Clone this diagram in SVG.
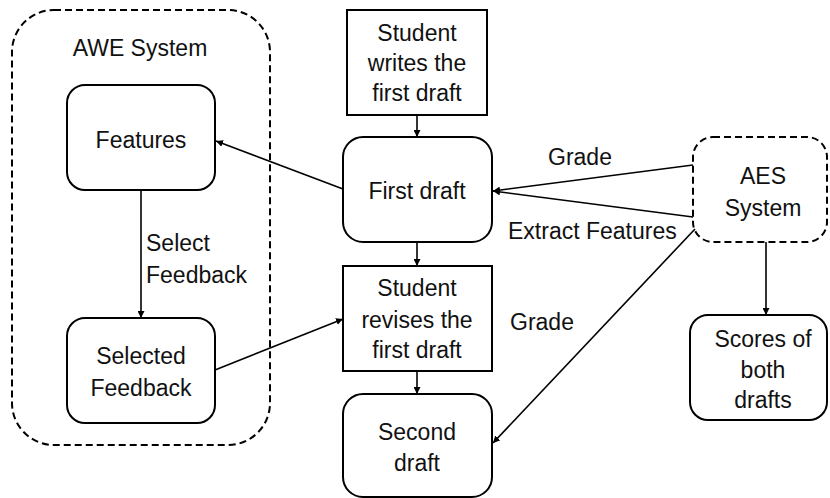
<svg xmlns="http://www.w3.org/2000/svg" width="830" height="498" viewBox="0 0 830 498">
<defs>
<marker id="arr" viewBox="0 0 10 10" refX="10" refY="5" markerWidth="7" markerHeight="7" markerUnits="userSpaceOnUse" orient="auto">
<path d="M0,0 L10,5 L0,10 z" fill="#000"/>
</marker>
</defs>
<style>
.box{fill:#fff;stroke:#000;stroke-width:2}
.dash{fill:none;stroke:#000;stroke-width:2;stroke-dasharray:7,4}
.t{font-family:"Liberation Sans",Arial,sans-serif;font-size:23px;fill:#111;text-anchor:middle}
.l{font-family:"Liberation Sans",Arial,sans-serif;font-size:23px;fill:#111}
.c{stroke:#000;stroke-width:1.6;fill:none;marker-end:url(#arr)}
</style>
<rect width="830" height="498" fill="#fff"/>
<g id="awe">
<rect class="dash" x="12" y="10" width="258" height="435" rx="42"/>
<text class="t" x="140" y="56">AWE System</text>
</g>
<g id="features">
<rect class="box" x="67" y="85" width="148" height="105" rx="18"/>
<text class="t" x="141" y="148">Features</text>
</g>
<g id="selected">
<rect class="box" x="67" y="318" width="148" height="105" rx="18"/>
<text class="t" x="141" y="364">Selected</text>
<text class="t" x="141" y="396">Feedback</text>
</g>
<g id="writes">
<rect class="box" x="347" y="10" width="140" height="105"/>
<text class="t" x="417" y="41">Student</text>
<text class="t" x="417" y="71">writes the</text>
<text class="t" x="417" y="101">first draft</text>
</g>
<g id="first">
<rect class="box" x="343" y="137" width="149" height="105" rx="20"/>
<text class="t" x="417" y="199">First draft</text>
</g>
<g id="revises">
<rect class="box" x="343" y="266" width="149" height="105"/>
<text class="t" x="417" y="296">Student</text>
<text class="t" x="417" y="328">revises the</text>
<text class="t" x="417" y="358">first draft</text>
</g>
<g id="second">
<rect class="box" x="343" y="394" width="149" height="103" rx="20"/>
<text class="t" x="417" y="440">Second</text>
<text class="t" x="417" y="471">draft</text>
</g>
<g id="aes">
<rect class="dash" x="693" y="137" width="134" height="105" rx="20"/>
<text class="t" x="763" y="184">AES</text>
<text class="t" x="763" y="216">System</text>
</g>
<g id="scores">
<rect class="box" x="690" y="315" width="137" height="105" rx="18"/>
<text class="t" x="763" y="347">Scores of</text>
<text class="t" x="763" y="378">both</text>
<text class="t" x="763" y="408">drafts</text>
</g>
<g id="connectors">
<line class="c" x1="141" y1="190" x2="141" y2="318"/>
<line class="c" x1="417" y1="115" x2="417" y2="137"/>
<line class="c" x1="417" y1="242" x2="417" y2="266"/>
<line class="c" x1="417" y1="371" x2="417" y2="394"/>
<line class="c" x1="343" y1="189" x2="216" y2="141"/>
<line class="c" x1="215" y1="370" x2="343" y2="319"/>
<line class="c" x1="693" y1="165" x2="493" y2="191"/>
<line class="c" x1="693" y1="217" x2="493" y2="191"/>
<line class="c" x1="695" y1="229" x2="493" y2="443"/>
<line class="c" x1="766" y1="242" x2="766" y2="315"/>
<text class="l" x="146" y="251">Select</text>
<text class="l" x="146" y="283">Feedback</text>
<text class="l" x="548" y="165">Grade</text>
<text class="l" x="508" y="239">Extract Features</text>
<text class="l" x="510" y="330">Grade</text>
</g>
</svg>
